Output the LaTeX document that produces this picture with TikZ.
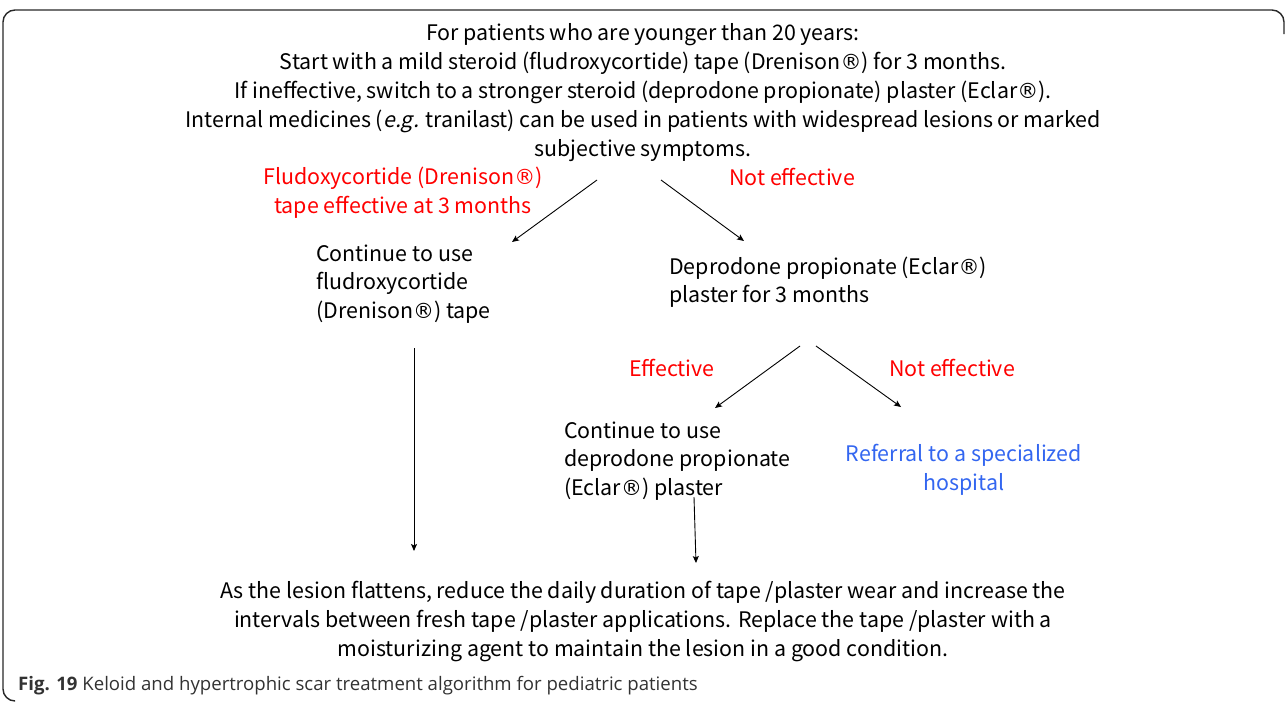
\documentclass[tikz,border=0pt]{standalone}
\usepackage{fontspec}
\setmainfont{Noto Sans CJK JP}[ItalicFont=Noto Sans CJK JP, ItalicFeatures={FakeSlant=0.2}]
\newfontfamily\capfont{Open Sans}
\newfontfamily\regfont{DejaVu Sans}
\newcommand{\regmark}{{\regfont\fontsize{21}{21}\selectfont ®}}
\usetikzlibrary{arrows.meta}
\definecolor{refblue}{RGB}{51,102,240}
\definecolor{framegray}{RGB}{40,40,40}
\definecolor{capgray}{RGB}{50,50,50}
\tikzset{
  txt/.style={inner sep=0pt, font=\fontsize{21.4}{29}\selectfont, align=center},
  ltxt/.style={inner sep=0pt, font=\fontsize{21.4}{28.5}\selectfont, align=left, anchor=west},
  redtxt/.style={txt, text=red},
  arr/.style={-{Stealth[length=7pt,width=6pt,inset=1.5pt]}, line width=0.9pt},
}
\begin{document}
\begin{tikzpicture}[x=1pt,y=-1pt]
\useasboundingbox (0,0) rectangle (1285,702);
% frame
\draw[framegray, line width=1.4pt, rounded corners=12pt] (1284,34) -- (1284,10) -- (3,10) -- (3,701) -- (14,701);
% texts
\node[txt] (top) at (643,92.5) {For patients who are younger than 20 years:\\
Start with a mild steroid (fludroxycortide) tape (Drenison\regmark) for 3 months.\\
If ineffective, switch to a stronger steroid (deprodone propionate) plaster (Eclar\regmark).\\
Internal medicines (\textit{e.g.} tranilast) can be used in patients with widespread lesions or marked\\
subjective symptoms.};
\node[redtxt] (lab1) at (403,192.5) {Fludoxycortide (Drenison\regmark)\\tape effective at 3 months};
\node[redtxt] (lab2) at (792,177) {Not effective};
\node[ltxt] (cont1) at (316,284) {Continue to use\\fludroxycortide\\(Drenison\regmark) tape};
\node[ltxt] (dep) at (669,282) {Deprodone propionate (Eclar\regmark)\\plaster for 3 months};
\node[redtxt] (lab3) at (672,368) {Effective};
\node[redtxt] (lab4) at (952,368) {Not effective};
\node[ltxt] (cont2) at (564,461) {Continue to use\\deprodone propionate\\(Eclar\regmark) plaster};
\node[txt, text=refblue] (ref) at (964,469.5) {Referral to a specialized\\hospital};
\node[txt] (bottom) at (643,621.5) {As the lesion flattens, reduce the daily duration of tape /plaster wear and increase the\\
intervals between fresh tape /plaster applications. Replace the tape /plaster with a\\
moisturizing agent to maintain the lesion in a good condition.};
\node[inner sep=0pt, anchor=west, text=capgray, font=\capfont\fontsize{18.6}{20}\selectfont] (cap) at (18,686) {\textbf{Fig. 19} Keloid and hypertrophic scar treatment algorithm for pediatric patients};
% arrow anchor coordinates
\coordinate (a1s) at (597,180); \coordinate (a1e) at (512,242);
\coordinate (a2s) at (661,180); \coordinate (a2e) at (744,241);
\coordinate (a3s) at (800,346); \coordinate (a3e) at (715,408);
\coordinate (a4s) at (816,346); \coordinate (a4e) at (901,407);
\coordinate (a5s) at (414,348); \coordinate (a5e) at (414,551);
\coordinate (a6s) at (694,497); \coordinate (a6e) at (696,563);
\draw[arr] (a1s) -- (a1e);
\draw[arr] (a2s) -- (a2e);
\draw[arr] (a3s) -- (a3e);
\draw[arr] (a4s) -- (a4e);
\draw[arr] (a5s) -- (a5e);
\draw[arr] (a6s) -- (a6e);
\end{tikzpicture}
\end{document}
